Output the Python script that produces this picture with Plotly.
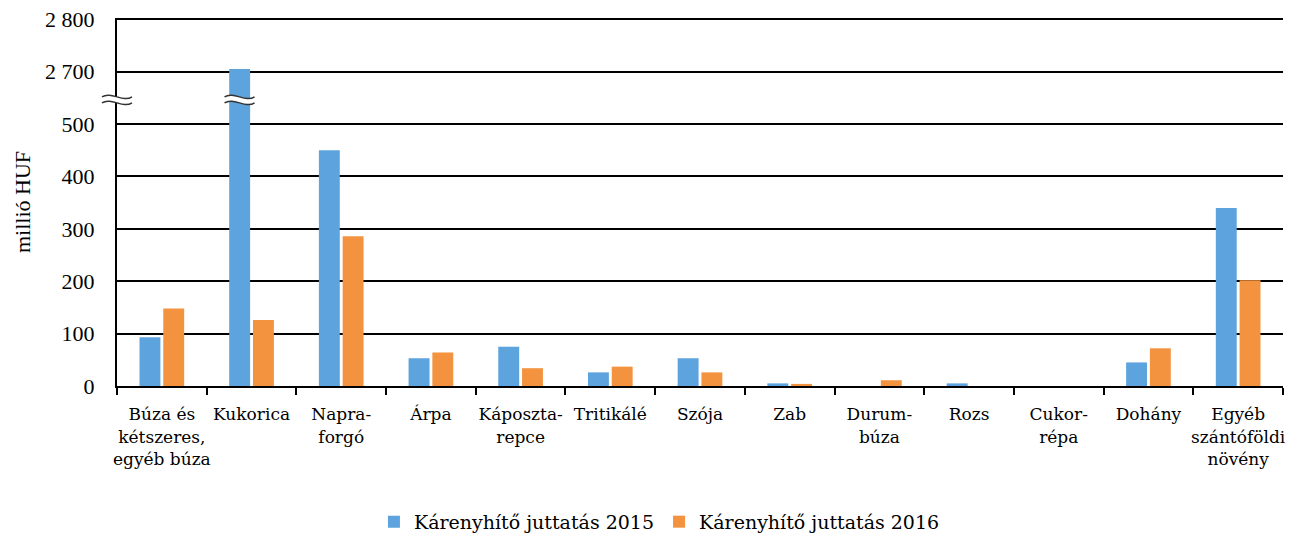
import plotly.graph_objects as go

categories = ["Búza és<br>kétszeres,<br>egyéb búza", "Kukorica", "Napra-<br>forgó", "Árpa",
              "Káposzta-<br>repce", "Tritikálé", "Szója", "Zab", "Durum-<br>búza", "Rozs",
              "Cukor-<br>répa", "Dohány", "Egyéb<br>szántóföldi<br>növény"]
values_2015 = [93, 2705, 450, 53, 75, 26, 53, 5, 0, 5, 0, 45, 340]
values_2016 = [148, 126, 286, 64, 34, 37, 26, 4, 11, 0, 0, 72, 202]
series_names = ["Kárenyhítő juttatás 2015", "Kárenyhítő juttatás 2016"]
tick_values = [0, 100, 200, 300, 400, 500, 2700, 2800]
tick_labels = ["0", "100", "200", "300", "400", "500", "2 700", "2 800"]

BREAK_LOW, BREAK_HIGH = 500, 2700


def to_axis(v):
    # broken axis: 500 -> 2700 compressed into one 100-unit interval
    if v <= BREAK_LOW:
        return v
    if v >= BREAK_HIGH:
        return BREAK_LOW + 100 + (v - BREAK_HIGH)
    return BREAK_LOW + (v - BREAK_LOW) / (BREAK_HIGH - BREAK_LOW) * 100


serif = "Liberation Serif"
wide_serif = "DejaVu Serif"
blue = "#5DA3DD"
orange = "#F39340"

fig = go.Figure()
for name, vals, col in [(series_names[0], values_2015, blue), (series_names[1], values_2016, orange)]:
    fig.add_trace(go.Bar(
        x=categories, y=[to_axis(v) for v in vals], name=name,
        marker=dict(color=col, line=dict(width=0)),
        customdata=vals, hovertemplate="%{x}: %{customdata}<extra></extra>",
    ))

fig.update_layout(
    width=1290, height=527,
    margin=dict(l=109, r=15, t=10, b=149, autoexpand=False),
    paper_bgcolor="white", plot_bgcolor="white",
    barmode="group", bargap=0.47, bargroupgap=0.12,
    font=dict(family=serif, size=18, color="black"),
    showlegend=True,
    legend=dict(orientation="h", xref="container", x=0.505, xanchor="center",
                yref="container", y=0.025, yanchor="middle",
                font=dict(family=wide_serif, size=19), itemwidth=30, traceorder="normal"),
    xaxis=dict(
        type="category", showline=True, linecolor="black", linewidth=2,
        ticks="outside", tickson="boundaries", ticklen=7, tickwidth=2, tickcolor="black",
        showgrid=False, tickfont=dict(family=wide_serif, size=17), tickangle=0,
        ticklabelstandoff=12,
    ),
    yaxis=dict(
        range=[0, to_axis(2800) + 2.5],
        tickvals=[to_axis(v) for v in tick_values], ticktext=tick_labels,
        showline=True, linecolor="black", linewidth=2,
        showgrid=True, gridcolor="black", gridwidth=2,
        zeroline=False, ticks="", tickfont=dict(size=22), ticklabeloverflow="allow",
        ticklabelstandoff=16,
        title=dict(text="millió HUF", font=dict(size=22), standoff=8),
    ),
)

mid = to_axis((BREAK_LOW + BREAK_HIGH) / 2)
fill_path = "M -15,1 C -6,7 6,-5 15,1 L 15,-5 C 6,-11 -6,1 -15,-5 Z"
top_line = "M -15,1 C -6,7 6,-5 15,1"
bot_line = "M -15,-5 C -6,1 6,-11 15,-5"


def add_break(xref, xanchor, xoff):
    def shift(p):
        out = []
        for tok in p.split():
            if "," in tok:
                a, b = tok.split(",")
                out.append(f"{float(a) + xoff:g},{b}")
            else:
                out.append(tok)
        return " ".join(out)
    common = dict(xref=xref, yref="y", xsizemode="pixel", ysizemode="pixel",
                  xanchor=xanchor, yanchor=mid, layer="above")
    fig.add_shape(type="path", path=shift(fill_path), fillcolor="white",
                  line=dict(width=0), **common)
    fig.add_shape(type="path", path=shift(top_line), line=dict(color="#333333", width=1.5), **common)
    fig.add_shape(type="path", path=shift(bot_line), line=dict(color="#333333", width=1.5), **common)


add_break("paper", 0, 0)
add_break("x", 1, -12)

fig.write_html("out.html")
